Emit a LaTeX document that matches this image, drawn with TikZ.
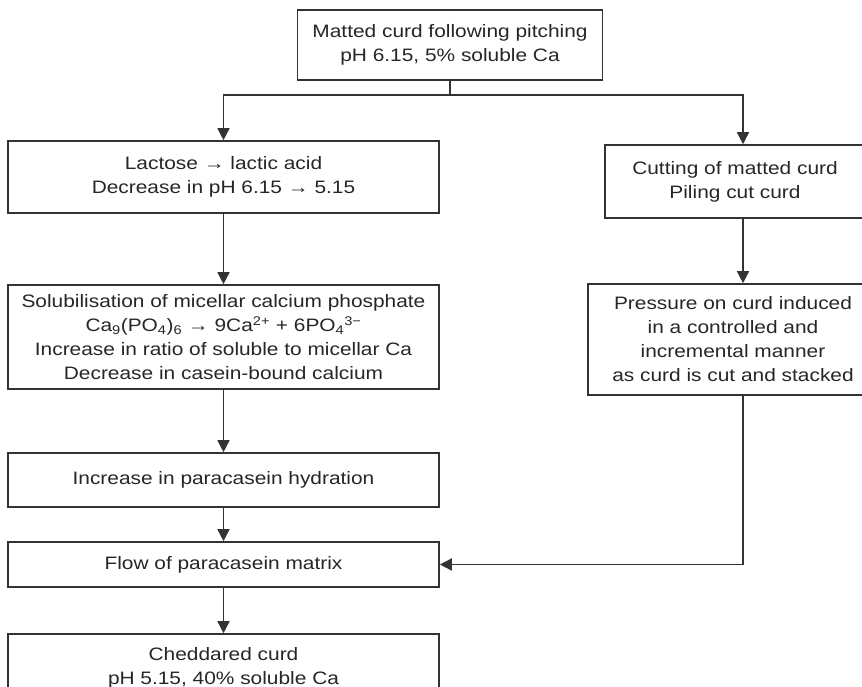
\documentclass[tikz,border=0pt]{standalone}
\usepackage{fontspec}
\setmainfont{Liberation Sans}[FakeStretch=1.16]
\usetikzlibrary{arrows.meta}
\begin{document}
\begin{tikzpicture}[x=1pt,y=-1pt,
  box/.style={draw=black!80, line width=1.6pt, align=center, inner sep=2pt,
    font=\fontsize{18}{24}\selectfont, text=black!85},
  arr/.style={draw=black!80, line width=1.5pt, -{Triangle[length=12pt,width=12pt]}},
  ln/.style={draw=black!80, line width=1.5pt}]
\useasboundingbox (0,0) rectangle (862,687);
\clip (0,0) rectangle (862,687);
\node[box, minimum width=305pt, minimum height=70pt] (top) at (450,45)
  {Matted curd following pitching\\pH 6.15, 5\% soluble Ca};
\node[box, minimum width=431pt, minimum height=72pt] (L1) at (223.5,177)
  {Lactose → lactic acid\\Decrease in pH 6.15 → 5.15};
\node[box, minimum width=260pt, minimum height=73pt] (R1) at (735,181.5)
  {Cutting of matted curd\\Piling cut curd};
\node[box, minimum width=431pt, minimum height=104pt] (L2) at (223.5,337)
  {Solubilisation of micellar calcium phosphate\\
   Ca\textsubscript{9}(PO\textsubscript{4})\textsubscript{6} → 9Ca\textsuperscript{2+} + 6PO\textsubscript{4}\textsuperscript{3−}\\
   Increase in ratio of soluble to micellar Ca\\
   Decrease in casein-bound calcium};
\node[box, minimum width=290pt, minimum height=111pt] (R2) at (733,339.5)
  {Pressure on curd induced\\in a controlled and\\incremental manner\\as curd is cut and stacked};
\node[box, minimum width=431pt, minimum height=54pt] (L3) at (223.5,480)
  {Increase in paracasein hydration};
\node[box, minimum width=431pt, minimum height=45pt] (L4) at (223.5,564.5)
  {Flow of paracasein matrix};
\node[box, minimum width=431pt, minimum height=68pt] (L5) at (223.5,668)
  {Cheddared curd\\pH 5.15, 40\% soluble Ca};
\coordinate (jl) at (223.5,95);
\coordinate (jr) at (743,95);
\draw[arr] (top.south) |- (jl) -- (L1.north);
\draw[arr] (top.south) |- (jr) -- (R1.north -| jr);
\draw[arr] (L1.south) -- (L2.north);
\draw[arr] (L2.south) -- (L3.north);
\draw[arr] (L3.south) -- (L4.north);
\draw[arr] (L4.south) -- (L5.north);
\draw[arr] (R1.south -| jr) -- (R2.north -| jr);
\draw[arr] (R2.south -| jr) |- (L4.east);
\end{tikzpicture}
\end{document}
